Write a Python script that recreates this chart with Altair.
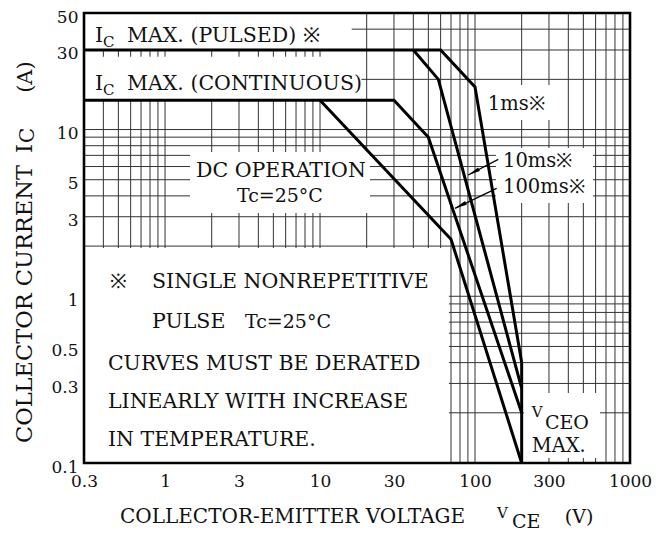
import altair as alt
import pandas as pd

# ---- axis ranges and tick labels ----
X_DOMAIN = [0.3, 1000]
Y_DOMAIN = [0.1, 50]
X_TICKS = [0.3, 1, 3, 10, 30, 100, 300, 1000]
Y_TICKS = [0.1, 0.3, 0.5, 1, 3, 5, 10, 30, 50]

GRID_X = [0.4, 0.5, 0.6, 0.7, 0.8, 0.9, 1, 2, 3, 4, 5, 6, 7, 8, 9,
          10, 20, 30, 40, 50, 60, 70, 80, 90,
          100, 200, 300, 400, 500, 600, 700, 800, 900]
GRID_Y = [0.2, 0.3, 0.4, 0.5, 0.6, 0.7, 0.8, 0.9,
          1, 2, 3, 4, 5, 6, 7, 8, 9, 10, 20, 30, 40]

# ---- safe operating area curves (V_CE in V, I_C in A) ----
V_1MS = [0.3, 60, 100, 200]
I_1MS = [30, 30, 18, 0.4]
V_10MS = [40, 58, 200]
I_10MS = [30, 20, 0.28]
V_100MS = [0.3, 30, 50, 200]
I_100MS = [15, 15, 9, 0.2]
V_DC = [10, 70, 200]
I_DC = [15, 2.2, 0.1]
V_VCEO = [200, 200]
I_VCEO = [0.4, 0.1]

# ---- label pointer arrows (start -> tip) ----
ARROW_NAME = ["10ms", "10ms", "100ms", "100ms"]
ARROW_V = [141.3, 90.4, 137.9, 74.3]
ARROW_I = [6.63, 5.34, 4.44, 3.37]
HEAD_V = [97.9, 80.5]
HEAD_I = [5.55, 3.50]
HEAD_ANGLE = [332, 334]

# ---- white label backgrounds (data coords) ----
BOX_X1 = [0.3, 0.3, 1.45, 116, 136.5, 0.3, 207]
BOX_X2 = [16, 18.5, 21, 364, 577, 67.9, 640]
BOX_Y1 = [30, 15, 3.16, 11.4, 3.63, 0.1, 0.107]
BOX_Y2 = [50, 27.3, 7.34, 18.5, 7.76, 1.95, 0.263]

# ---- text pieces: text, V position, I position, font size, angle ----
TXT = ["I", "C", "MAX. (PULSED) ※",
       "I", "C", "MAX. (CONTINUOUS)",
       "DC OPERATION", "Tc=25°C",
       "1ms※", "10ms※", "100ms※",
       "※", "SINGLE NONREPETITIVE", "PULSE", "Tc=25°C",
       "CURVES MUST BE DERATED", "LINEARLY WITH INCREASE", "IN TEMPERATURE.",
       "V", "CEO", "MAX.",
       "COLLECTOR-EMITTER VOLTAGE", "V", "CE", "(V)",
       "COLLECTOR CURRENT", "I", "C", "(A)"]
TXT_V = [0.353, 0.398, 0.568,
         0.353, 0.398, 0.568,
         1.584, 2.91,
         121, 151.5, 151.5,
         0.442, 0.824, 0.824, 3.28,
         0.428, 0.428, 0.428,
         232, 282.7, 232,
         0.512, 138.6, 173, 380,
         0.138, 0.138, 0.1427, 0.138]
TXT_I = [33.5, 31.1, 33.5,
         17.3, 16.2, 17.3,
         5.16, 3.68,
         13.1, 5.97, 4.17,
         1.122, 1.122, 0.648, 0.648,
         0.361, 0.2138, 0.1256,
         0.188, 0.161, 0.117,
         0.0436, 0.0468, 0.0407, 0.0436,
         0.1318, 7.24, 8.31, 16.6]
TXT_SIZE = [20.5, 15, 20.5,
            20.5, 15, 20.5,
            20.5, 19,
            19.5, 19.5, 19.5,
            20, 20.5, 20.5, 19,
            20.5, 20.5, 20.5,
            15, 19, 19.5,
            20, 15, 19, 19,
            22.5, 22.5, 20, 21]
TXT_ANGLE = [0] * 25 + [270] * 4

FONT = "DejaVu Serif"
INK = "#111111"

curves = pd.concat([
    pd.DataFrame({"x": V_1MS, "y": I_1MS, "curve": "1ms"}),
    pd.DataFrame({"x": V_10MS, "y": I_10MS, "curve": "10ms"}),
    pd.DataFrame({"x": V_100MS, "y": I_100MS, "curve": "100ms"}),
    pd.DataFrame({"x": V_DC, "y": I_DC, "curve": "DC"}),
    pd.DataFrame({"x": V_VCEO, "y": I_VCEO, "curve": "VCEO"}),
], ignore_index=True)
curves["order"] = range(len(curves))

xs = alt.Scale(type="log", domain=X_DOMAIN, nice=False)
ys = alt.Scale(type="log", domain=Y_DOMAIN, nice=False)

axis_common = dict(domain=False, ticks=False, tickSize=0, grid=False,
                   labelFont=FONT, labelFontSize=17, labelColor=INK,
                   format="~g", title=None)

gx = alt.Chart(pd.DataFrame({"x": GRID_X})).mark_rule(
    color="#333333", strokeWidth=1
).encode(
    x=alt.X("x:Q", scale=xs,
            axis=alt.Axis(values=X_TICKS, labelPadding=10, labelFlush=False,
                          labelBaseline="top", **axis_common)),
)

gy = alt.Chart(pd.DataFrame({"y": GRID_Y})).mark_rule(
    color="#333333", strokeWidth=1
).encode(
    y=alt.Y("y:Q", scale=ys,
            axis=alt.Axis(values=Y_TICKS, labelPadding=6, labelFlush=False,
                          labelOffset=4, **axis_common)),
)

boxes = alt.Chart(pd.DataFrame({"x": BOX_X1, "x2": BOX_X2,
                                "y": BOX_Y1, "y2": BOX_Y2})).mark_rect(
    fill="white", strokeWidth=0
).encode(
    x=alt.X("x:Q", scale=xs), x2="x2:Q",
    y=alt.Y("y:Q", scale=ys), y2="y2:Q",
)

lines = alt.Chart(curves).mark_line(
    color="black", strokeWidth=3, strokeJoin="miter"
).encode(
    x=alt.X("x:Q", scale=xs),
    y=alt.Y("y:Q", scale=ys),
    detail="curve:N",
    order="order:Q",
)

arrows = alt.Chart(pd.DataFrame({"x": ARROW_V, "y": ARROW_I,
                                 "name": ARROW_NAME})).mark_line(
    color="black", strokeWidth=1.3
).encode(
    x=alt.X("x:Q", scale=xs),
    y=alt.Y("y:Q", scale=ys),
    detail="name:N",
)

heads = alt.Chart(pd.DataFrame({"x": HEAD_V, "y": HEAD_I,
                                "a": HEAD_ANGLE})).mark_point(
    shape="M -1 0 L 1 -0.32 L 1 0.32 Z", filled=True, color="black",
    size=150, opacity=1
).encode(
    x=alt.X("x:Q", scale=xs),
    y=alt.Y("y:Q", scale=ys),
    angle=alt.Angle("a:Q", scale=None),
)

frame = alt.Chart(pd.DataFrame({"x": [X_DOMAIN[0]], "x2": [X_DOMAIN[1]],
                                "y": [Y_DOMAIN[0]], "y2": [Y_DOMAIN[1]]})).mark_rect(
    fillOpacity=0, stroke="black", strokeWidth=2.6
).encode(
    x=alt.X("x:Q", scale=xs), x2="x2:Q",
    y=alt.Y("y:Q", scale=ys), y2="y2:Q",
)

texts = alt.Chart(pd.DataFrame({"t": TXT, "x": TXT_V, "y": TXT_I,
                                "s": TXT_SIZE, "a": TXT_ANGLE})).mark_text(
    align="left", baseline="alphabetic", font=FONT, color=INK
).encode(
    x=alt.X("x:Q", scale=xs),
    y=alt.Y("y:Q", scale=ys),
    text="t:N",
    size=alt.Size("s:Q", scale=None),
    angle=alt.Angle("a:Q", scale=None),
)

chart = alt.layer(gx, gy, boxes, lines, arrows, heads, frame, texts).properties(
    width=546, height=450,
    autosize=alt.AutoSizeParams(type="none"),
    padding={"left": 76, "top": 5, "right": 30, "bottom": 70},
).configure_view(strokeWidth=0)

chart.save("out.html", embed_options={"renderer": "svg", "actions": False})
